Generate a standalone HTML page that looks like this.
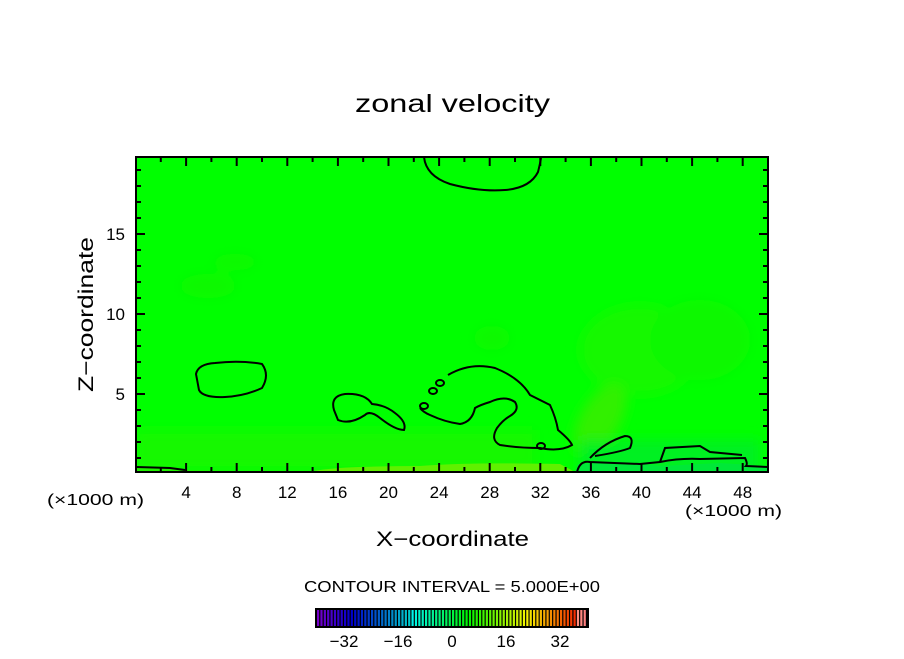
<!DOCTYPE html>
<html><head><meta charset="utf-8"><style>
body{margin:0;background:#fff;}
svg text{font-family:"Liberation Sans","DejaVu Sans",sans-serif;fill:#000;}
</style></head><body>
<svg width="904" height="654" viewBox="0 0 904 654" xmlns="http://www.w3.org/2000/svg">
<defs>
<filter id="blur" x="-20%" y="-20%" width="140%" height="140%"><feGaussianBlur stdDeviation="6"/></filter>
<clipPath id="clip"><rect x="136" y="157" width="632" height="315"/></clipPath>
</defs>
<text x="355" y="112" font-size="25" textLength="195" lengthAdjust="spacingAndGlyphs">zonal velocity</text>
<g clip-path="url(#clip)">
<rect x="136" y="157" width="632" height="315" fill="#00ff00"/>
<g filter="url(#blur)">
<ellipse cx="208" cy="286" rx="28" ry="12" fill="#10f800"/>
<ellipse cx="235" cy="262" rx="22" ry="8" fill="#10f800"/>
<ellipse cx="492" cy="338" rx="18" ry="12" fill="#10f800"/>
<ellipse cx="640" cy="350" rx="60" ry="45" fill="#18f800"/>
<ellipse cx="700" cy="340" rx="50" ry="40" fill="#10f800"/>
<ellipse cx="600" cy="420" rx="20" ry="40" fill="#30f000" transform="rotate(30 600 420)"/>
<rect x="136" y="430" width="400" height="40" fill="#18f800"/>
<rect x="580" y="440" width="180" height="35" fill="#00f020"/>
</g>
<path d="M136,472 L136,466 L175,467 L185,470 L270,472 Z" fill="#20f000"/>
<path d="M310,472 Q330,466 420,466 Q470,462 560,464 L575,472 Z" fill="#60f000"/>
<path d="M575,472 L578,464 L620,462 L660,466 L720,463 L768,466 L768,472 Z" fill="#00e838"/>
<g fill="none" stroke="#000" stroke-width="2">
<path d="M424,157 Q426,176 450,184 Q480,192 505,190 Q530,188 538,172 Q541,160 541,157"/>
<path d="M196,374 Q198,364 215,363 Q240,360 262,364 Q270,375 262,388 Q245,396 225,397 Q203,398 199,390 Z"/>
<path d="M334,410 Q330,396 345,394 Q365,393 372,404 Q385,405 395,413 Q407,422 404,430 Q395,430 380,418 Q370,410 365,415 Q350,425 338,420 Z"/>
<path d="M448,375 Q470,362 495,368 Q520,378 530,395 Q540,400 550,405 Q556,418 558,430 Q570,440 572,445 Q560,452 540,448 Q520,448 500,445 Q490,440 497,428 Q503,420 510,416 Q520,410 515,402 Q505,395 490,402 Q480,405 475,408 Q472,422 460,424 Q445,422 430,415 Q423,412 420,408"/>
<ellipse cx="424" cy="406" rx="4" ry="3"/>
<ellipse cx="433" cy="391" rx="4" ry="3"/>
<ellipse cx="440" cy="383" rx="4" ry="3"/>
<ellipse cx="541" cy="446" rx="4" ry="3"/>
<path d="M590,458 Q605,442 625,436 Q635,436 630,448 Q620,452 595,456"/>
<path d="M577,472 Q580,460 590,462 L640,464 L660,462 Q680,458 700,459 L745,458 Q748,464 746,466 L768,467"/>
<path d="M660,462 L665,448 L700,446 L710,452 L742,455"/>
<path d="M136,467 L170,468 L185,470"/>
</g>
</g>
<rect x="136" y="157" width="632" height="315" fill="none" stroke="#000" stroke-width="2"/>
<g id="axes"></g>
<text x="47" y="505" font-size="16" textLength="97" lengthAdjust="spacingAndGlyphs">(×1000 m)</text>
<text x="685" y="516" font-size="16" textLength="97" lengthAdjust="spacingAndGlyphs">(×1000 m)</text>
<text x="376" y="546" font-size="21" textLength="153" lengthAdjust="spacingAndGlyphs">X−coordinate</text>
<text x="0" y="0" font-size="21" textLength="155" lengthAdjust="spacingAndGlyphs" transform="translate(93 392) rotate(-90)">Z−coordinate</text>
<text x="304" y="592" font-size="16" textLength="296" lengthAdjust="spacingAndGlyphs">CONTOUR INTERVAL = 5.000E+00</text>
<g id="cbar"></g>
</svg>
<script>
const xTicks=[4,8,12,16,20,24,28,32,36,40,44,48];
const yTicks=[5,10,15];
const cbTicks=[-32,-16,0,16,32];
const cbMin=-40, cbMax=40;
const NS="http://www.w3.org/2000/svg";
const X=v=>135.5+v*12.65, Y=v=>474-v*16;
const ax=document.getElementById('axes');
function el(t,a,p){const e=document.createElementNS(NS,t);for(const k in a)e.setAttribute(k,a[k]);p.appendChild(e);return e;}
for(let v=2;v<50;v+=2){const maj=v%4===0,L=maj?9:5;
 const a=el('line',{x1:X(v),x2:X(v),y1:472,y2:472-L,stroke:'#000','stroke-width':2},ax);
 
 const b=el('line',{x1:X(v),x2:X(v),y1:157,y2:157+L,stroke:'#000','stroke-width':2},ax);
 }
for(let v=1;v<20;v++){const maj=v%5===0,L=maj?9:5;
 const a=el('line',{x1:136,x2:136+L,y1:Y(v),y2:Y(v),stroke:'#000','stroke-width':2},ax);
 
 const b=el('line',{x1:768,x2:768-L,y1:Y(v),y2:Y(v),stroke:'#000','stroke-width':2},ax);
 }
xTicks.forEach(v=>{const t=el('text',{x:X(v),y:498,'font-size':17,'text-anchor':'middle'},ax);t.textContent=v;
 });
yTicks.forEach(v=>{const t=el('text',{x:125,y:Y(v)+6,'font-size':17,'text-anchor':'end'},ax);t.textContent=v;
 });
const cb=document.getElementById('cbar');
const C=v=>317+(v-cbMin)*(587-317)/(cbMax-cbMin);
const bg=el('rect',{x:316,y:609,width:272,height:18,fill:'#000'},cb);

const n=80;
for(let i=0;i<n;i++){const f=i/(n-1);
 const hue=275-f*275;const light=f>0.97?75:(f<0.35?40:48);
 const r=el('rect',{x:C(cbMin+i*(cbMax-cbMin)/n),y:610,width:(587-317)/n*0.65,height:16,fill:`hsl(${Math.max(hue,0)},100%,${light}%)`},cb);
 }
const fr=el('rect',{x:316,y:609,width:272,height:18,fill:'none',stroke:'#000','stroke-width':2},cb);

cbTicks.forEach(v=>{const t=el('text',{x:C(v),y:647,'font-size':17,'text-anchor':'middle'},cb);t.textContent=(v<0?'−'+(-v):v);
 });
</script>
</body></html>
